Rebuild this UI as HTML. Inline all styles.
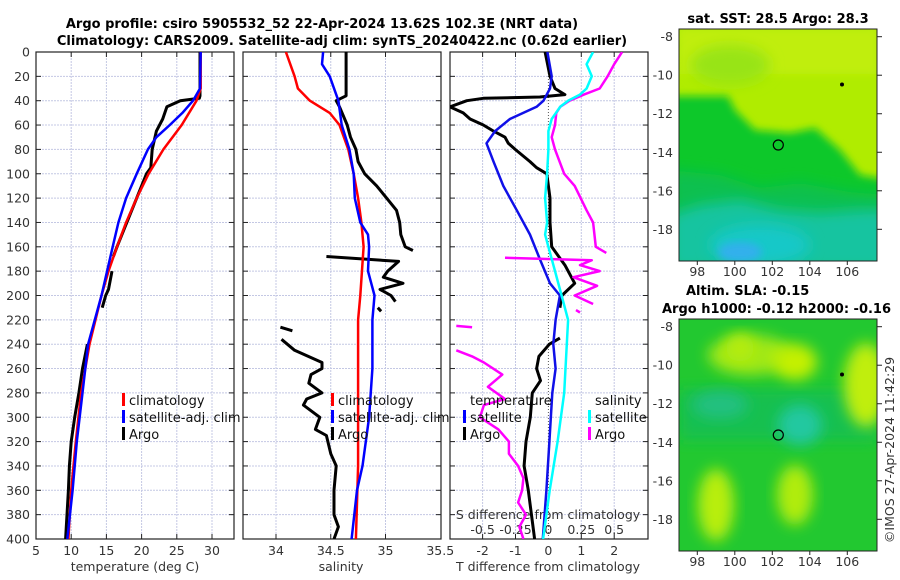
<!DOCTYPE html>
<html><head><meta charset="utf-8">
<style>
html,body{margin:0;padding:0;background:#fff;}
svg{display:block;font-family:"DejaVu Sans","Liberation Sans",sans-serif;}
.tk{font-size:12.5px;fill:#333;}
.ttl{font-size:13px;font-weight:bold;fill:#000;}
.lg{font-size:13px;fill:#111;}
</style></head>
<body>
<svg id="chart" width="900" height="580" viewBox="0 0 900 580">
<defs>
<filter id="blur4" x="-20%" y="-20%" width="140%" height="140%"><feGaussianBlur stdDeviation="4"/></filter>
<filter id="blur8" x="-30%" y="-30%" width="160%" height="160%"><feGaussianBlur stdDeviation="7"/></filter>
<clipPath id="clipTop"><rect x="679" y="29" width="198" height="232"/></clipPath>
<clipPath id="clipBot"><rect x="679" y="319" width="198" height="232"/></clipPath>
<clipPath id="c1"><rect x="36" y="52" width="198" height="487"/></clipPath>
<clipPath id="c2"><rect x="243" y="52" width="198" height="487"/></clipPath>
<clipPath id="c3"><rect x="450" y="52" width="198" height="487"/></clipPath>
</defs>
<text class="ttl" x="322" y="28" text-anchor="middle">Argo profile: csiro 5905532_52 22-Apr-2024 13.62S 102.3E (NRT data)</text>
<text class="ttl" x="342" y="45" text-anchor="middle">Climatology: CARS2009. Satellite-adj clim: synTS_20240422.nc (0.62d earlier)</text>

<!-- top map -->
<g clip-path="url(#clipTop)">
<rect x="679" y="29" width="198" height="232" fill="#b0ec00"/>
<rect x="679" y="29" width="198" height="45" fill="#c0ee08" filter="url(#blur4)"/>
<ellipse cx="730" cy="65" rx="40" ry="20" fill="#98e418" filter="url(#blur8)"/>
<polygon points="670,96 728,96 735,110 755,130 790,133 815,128 840,150 860,175 890,180 890,270 670,270" fill="#10c82a" filter="url(#blur4)"/>
<polygon points="670,170 720,175 760,188 800,183 850,192 890,195 890,270 670,270" fill="#08c050" filter="url(#blur8)"/>
<polygon points="670,215 700,205 740,200 780,210 820,213 860,210 890,210 890,270 670,270" fill="#14c4a0" filter="url(#blur8)"/>
<ellipse cx="760" cy="245" rx="50" ry="20" fill="#18c8c8" filter="url(#blur8)"/>
<ellipse cx="740" cy="252" rx="22" ry="10" fill="#30b0ec" filter="url(#blur4)"/>
</g>
<rect x="679" y="29" width="198" height="232" fill="none" stroke="#222" stroke-width="1"/>
<circle cx="778.3" cy="145" r="5" fill="none" stroke="#000" stroke-width="1.2"/>
<circle cx="842" cy="84.5" r="2" fill="#000"/>
<text class="ttl" x="778" y="23" text-anchor="middle">sat. SST: 28.5 Argo: 28.3</text>

<!-- bottom map -->
<g clip-path="url(#clipBot)">
<rect x="679" y="319" width="198" height="232" fill="#22c830"/>
<rect x="679" y="390" width="198" height="50" fill="#14c050" filter="url(#blur8)"/>
<ellipse cx="750" cy="355" rx="42" ry="20" fill="#a0e818" filter="url(#blur8)"/>
<ellipse cx="795" cy="362" rx="22" ry="18" fill="#c4f000" filter="url(#blur8)"/>
<ellipse cx="740" cy="348" rx="14" ry="14" fill="#b4ec08" filter="url(#blur8)"/>
<ellipse cx="866" cy="385" rx="22" ry="42" fill="#c0ee08" filter="url(#blur8)"/>
<ellipse cx="716" cy="505" rx="18" ry="36" fill="#b8ee08" filter="url(#blur8)"/>
<ellipse cx="795" cy="495" rx="18" ry="30" fill="#b0ec08" filter="url(#blur8)"/>
<ellipse cx="800" cy="425" rx="22" ry="20" fill="#20c8a0" filter="url(#blur8)"/>
<ellipse cx="720" cy="405" rx="28" ry="14" fill="#20c080" filter="url(#blur8)"/>
</g>
<rect x="679" y="319" width="198" height="232" fill="none" stroke="#222" stroke-width="1"/>
<circle cx="778.3" cy="435" r="5" fill="none" stroke="#000" stroke-width="1.2"/>
<circle cx="842" cy="374.5" r="2" fill="#000"/>
<text class="ttl" x="686" y="295">Altim. SLA: -0.15</text>
<text class="ttl" x="662" y="313">Argo h1000: -0.12 h2000: -0.16</text>
<text class="tk" x="0" y="0" transform="translate(894,450) rotate(-90)" text-anchor="middle">©IMOS 27-Apr-2024 11:42:29</text>

<g id="layer"></g>
</svg>
<script>
// ---- data ----
var depthTicks=[0,20,40,60,80,100,120,140,160,180,200,220,240,260,280,300,320,340,360,380,400];
var tTicks=[5,10,15,20,25,30];
var sTicks=[34,34.5,35,35.5];
var dTicks=[-2,-1,0,1,2];
var sdTickLabels=["-0.5","-0.25","0","0.25","0.5"];
var sdTickVals=[-0.5,-0.25,0,0.25,0.5];
var lonTicks=[98,100,102,104,106];
var latTicks=[-8,-10,-12,-14,-16,-18];

var climTdep=[0,30,40,60,80,100,120,140,160,180,200,240,280,320,360,400];
var climT=[28.4,28.4,27.8,25.7,23.1,21.0,19.3,17.8,16.5,15.3,14.3,12.6,11.4,10.65,10.0,9.6];
var satTdep=[0,30,40,50,60,70,80,100,120,140,160,180,200,240,280,320,360,400];
var satT=[28.4,28.3,27.3,25.8,24.0,22.1,20.9,19.3,17.8,16.7,15.9,15.1,14.3,12.4,11.6,10.8,10.2,9.45];
var argoTdep=[0,36,38,40,45,55,65,80,95,100,120,140,160,168,172,180,195,200,210,215,225,230,240,260,280,300,320,340,360,400];
var argoT=[28.3,28.3,28.2,25.5,23.6,23.0,22.1,21.5,21.3,20.7,19.3,17.9,16.5,16.0,null,15.8,15.3,14.9,14.4,null,13.6,null,12.3,11.6,11.1,10.5,10.0,9.75,9.6,9.2];

var climSdep=[0,20,30,40,50,60,80,100,120,140,160,200,220,260,300,340,400];
var climS=[34.09,34.17,34.20,34.31,34.49,34.58,34.66,34.71,34.75,34.78,34.80,34.77,34.75,34.75,34.75,34.75,34.73];
var satSdep=[0,10,20,40,60,80,100,120,140,150,160,180,200,220,260,300,340,360,400];
var satS=[34.43,34.42,34.49,34.57,34.60,34.67,34.71,34.72,34.77,34.84,34.85,34.84,34.90,34.88,34.88,34.85,34.79,34.74,34.69];
var argoSdep=[0,36,40,45,60,70,80,90,100,110,120,130,140,150,160,163,165,168,172,180,185,190,195,200,205,208,210,213,220,226,229,232,236,245,255,260,265,272,280,285,290,300,310,315,330,340,360,380,390,400];
var argoS=[34.64,34.64,34.55,34.58,34.65,34.68,34.73,34.75,34.81,34.92,35.01,35.10,35.13,35.14,35.18,35.25,null,34.46,35.12,35.02,34.98,35.16,34.95,35.05,35.09,null,34.93,34.96,null,34.04,34.15,null,34.05,34.17,34.42,34.42,34.32,34.30,34.42,34.28,34.25,34.40,34.36,34.46,34.50,34.55,34.53,34.53,34.57,34.53];

var satDTdep=[0,20,30,40,45,55,65,75,90,110,130,150,170,190,200,220,240,260,280,320,360,400];
var satDT=[-0.03,0.1,0.05,-0.15,-0.36,-1.17,-1.62,-1.88,-1.67,-1.37,-0.96,-0.56,-0.26,0.05,0.35,0.22,0.15,0.22,0.12,0.03,-0.06,-0.17];
var argoDTdep=[0,20,30,35,37,38,40,45,50,55,60,65,70,75,80,90,95,100,120,140,160,175,185,190,200,210,220,235,240,250,260,270,280,300,320,340,360,400];
var argoDT=[-0.1,0.05,0.2,0.5,-0.26,-1.98,-2.48,-2.99,-2.59,-2.38,-1.98,-1.67,-1.32,-1.22,-1.01,-0.56,-0.36,-0.05,0.05,0.05,0.1,0.5,0.7,0.8,0.41,0.35,null,0.35,0.03,-0.29,-0.36,-0.24,-0.49,-0.55,-0.68,-0.74,-0.61,-0.42];
var satDSdep=[0,10,20,30,35,40,45,55,65,80,100,120,140,150,160,180,200,220,240,280,320,360,400];
var satDS=[0.34,0.29,0.33,0.29,0.24,0.15,0.09,0.025,0,0,-0.01,-0.025,-0.01,-0.025,0,0.05,0.1,0.15,0.14,0.12,0.07,0.01,-0.04];
var argoDSdep=[0,10,20,30,35,40,45,50,60,70,80,100,110,130,140,160,165,167,169,171,175,180,185,192,200,207,209,212,214,222,225,226,235,245,250,255,265,275,285,290,300,310,320,330,340,350,360,370,380,390,400];
var argoDS=[0.56,0.5,0.45,0.39,0.27,0.16,0.09,0.06,0.05,0.025,0.05,0.12,0.2,0.29,0.34,0.36,0.44,null,-0.33,0.33,0.24,0.39,0.19,0.37,0.2,0.34,null,0.21,0.24,null,-0.7,-0.58,null,-0.7,-0.58,-0.49,-0.35,-0.46,-0.33,-0.49,-0.52,-0.38,-0.3,-0.3,-0.23,-0.19,-0.2,-0.23,-0.17,-0.22,-0.19,-0.2];
</script>
<script>
var NS="http://www.w3.org/2000/svg";
var layer=document.getElementById('layer');
function yD(d){return 52+d*1.2175;}
function xT(t){return 36+(t-5)*7.04;}
function xS(s){return 276+(s-34)*109.5;}
function xD(v){return 548.4+v*32.9;}
function xSD(v){return xD(v*4);}
function lonX(l){return 697.3+(l-98)*18.75;}
function latYtop(l){return 36.7+(-8-l)*19.26;}
function latYbot(l){return 326.7+(-8-l)*19.26;}
function mk(tag,attrs,parent){var e=document.createElementNS(NS,tag);for(var k in attrs)e.setAttribute(k,attrs[k]);(parent||layer).appendChild(e);return e;}
function pathD(dep,val,fx){var d="",pen=false;for(var i=0;i<dep.length;i++){if(val[i]===null){pen=false;continue;}d+=(pen?"L":"M")+fx(val[i]).toFixed(1)+","+yD(dep[i]).toFixed(1);pen=true;}return d;}

var panels=[{x0:36,cl:'c1',name:'temperature-panel'},{x0:243,cl:'c2',name:'salinity-panel'},{x0:450,cl:'c3',name:'difference-panel'}];
var gridX=[tTicks.map(xT),[34,34.5,35].map(xS),[-2,-1,1,2].map(xD)];
panels.forEach(function(p,pi){
  var g=mk('g',{});
  
  
  depthTicks.forEach(function(d){if(d>0&&d<400){var l=mk('line',{x1:p.x0,x2:p.x0+198,y1:yD(d),y2:yD(d),stroke:'#c4c8e4','stroke-width':1,'stroke-dasharray':'2,1'},g);}
    var t1=mk('line',{x1:p.x0,x2:p.x0+5,y1:yD(d),y2:yD(d),stroke:'#222'},g);
    var t2=mk('line',{x1:p.x0+193,x2:p.x0+198,y1:yD(d),y2:yD(d),stroke:'#222'},g);});
  gridX[pi].forEach(function(x){if(x>p.x0+1&&x<p.x0+197){var l=mk('line',{x1:x,x2:x,y1:52,y2:539,stroke:'#c4c8e4','stroke-width':1,'stroke-dasharray':'2,1'},g);
    var t=mk('line',{x1:x,x2:x,y1:534,y2:539,stroke:'#222'},g);
    var t3=mk('line',{x1:x,x2:x,y1:52,y2:57,stroke:'#222'},g);}});
  var fr=mk('rect',{x:p.x0,y:52,width:198,height:487,fill:'none',stroke:'#222','stroke-width':1.2},g);
  
});
var z=mk('line',{x1:xD(0),x2:xD(0),y1:52,y2:539,stroke:'#555','stroke-width':1,'stroke-dasharray':'1,2'});

depthTicks.forEach(function(d){var t=mk('text',{x:30,y:yD(d)+4.5,'text-anchor':'end','class':'tk'});t.textContent=d;
  });
function xlab(vals,fx,labels,y){vals.forEach(function(v,i){var t=mk('text',{x:fx(v),y:y,'text-anchor':'middle','class':'tk'});t.textContent=labels?labels[i]:v;
  });}
xlab(tTicks,xT,null,555);xlab(sTicks,xS,null,555);xlab(dTicks,xD,null,555);
xlab(sdTickVals,xSD,sdTickLabels,534);
function label(txt,x,y,name,anchor){var t=mk('text',{x:x,y:y,'text-anchor':anchor||'middle','class':'tk'});t.textContent=txt;return t;}
label('temperature (deg C)',135,571,'x-axis-title-temperature');
label('salinity',341,571,'x-axis-title-salinity');
label('T difference from climatology',548,571,'x-axis-title-t-difference');
label('S difference from climatology',548,519,'s-difference-axis-title');
[[latYtop,29,261,276],[latYbot,319,551,566]].forEach(function(m,mi){
  latTicks.forEach(function(l){var y=m[0](l);var t=label(String(l),673,y+4.5,'map-lat-label','end');
    var tk=mk('line',{x1:877,x2:882,y1:y,y2:y,stroke:'#222'});});
  lonTicks.forEach(function(l){var x=lonX(l);label(String(l),x,m[3],'map-lon-label');
    var tk=mk('line',{x1:x,x2:x,y1:m[2],y2:m[2]+4,stroke:'#222'});});
});
function series(dep,val,fx,color,w,clip,name){var p=mk('path',{d:pathD(dep,val,fx),fill:'none',stroke:color,'stroke-width':w,'stroke-linejoin':'round','clip-path':'url(#'+clip+')'});
  }
series(argoTdep,argoT,xT,'#000',3,'c1','argo-temperature-line');
series(climTdep,climT,xT,'#ff0000',2.5,'c1','climatology-temperature-line');
series(satTdep,satT,xT,'#0000ff',2.5,'c1','satellite-temperature-line');
series(argoSdep,argoS,xS,'#000',3,'c2','argo-salinity-line');
series(climSdep,climS,xS,'#ff0000',2.5,'c2','climatology-salinity-line');
series(satSdep,satS,xS,'#0000ff',2.5,'c2','satellite-salinity-line');
series(argoDTdep,argoDT,xD,'#000',3,'c3','argo-t-difference-line');
series(satDTdep,satDT,xD,'#1010e8',2.5,'c3','satellite-t-difference-line');
series(argoDSdep,argoDS,xSD,'#ff00ff',2.5,'c3','argo-s-difference-line');
series(satDSdep,satDS,xSD,'#00ffff',2.5,'c3','satellite-s-difference-line');
function leg(x,y,color,txt,name){var r=mk('rect',{x:x,y:y-12,width:3,height:13,fill:color});
  var t=mk('text',{x:x+7,y:y,'class':'lg'});t.textContent=txt;}
leg(122,405,'#ff0000','climatology','legend-entry-climatology');
leg(122,422,'#0000ff','satellite-adj. clim','legend-entry-satellite');
leg(122,439,'#000','Argo','legend-entry-argo');
leg(331,405,'#ff0000','climatology','legend-entry-climatology-s');
leg(331,422,'#0000ff','satellite-adj. clim','legend-entry-satellite-s');
leg(331,439,'#000','Argo','legend-entry-argo-s');
label('temperature',470,405,'legend-header-temperature','start').setAttribute('class','lg');
label('salinity',595,405,'legend-header-salinity','start').setAttribute('class','lg');
leg(463,422,'#0000ff','satellite','legend-entry-t-satellite');
leg(463,439,'#000','Argo','legend-entry-t-argo');
leg(588,422,'#00ffff','satellite','legend-entry-s-satellite');
leg(588,439,'#ff00ff','Argo','legend-entry-s-argo');
</script>
</body></html>
